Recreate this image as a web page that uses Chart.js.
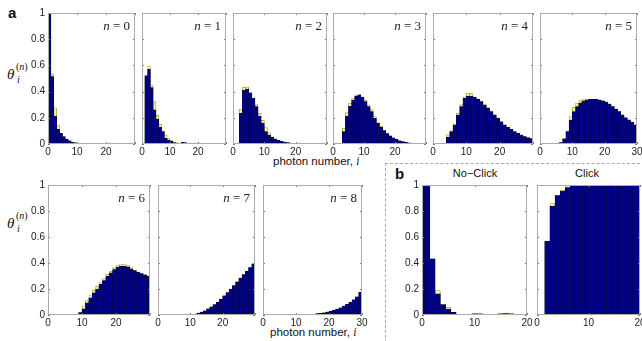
<!DOCTYPE html>
<html>
<head>
<meta charset="utf-8">
<script src="https://cdn.jsdelivr.net/npm/chart.js@4.4.0/dist/chart.umd.min.js"></script>
<style>
  body { margin: 0; background: #fff; }
  #fig { position: relative; width: 642px; height: 341px; overflow: hidden; font-family: "Liberation Sans", Arial, sans-serif; }
  #fig canvas { position: absolute; left: 0; top: 0; }
  .lbl { position: absolute; white-space: nowrap; color: #111; line-height: 1; }
  .serif { font-family: "Liberation Serif", "DejaVu Serif", serif; }
  .panel-letter { font-weight: bold; font-size: 15px; }
  .nlab { font-size: 13px; text-align: right; color: #222; }
  .xlab { font-size: 11.5px; }
  .ttl { font-size: 11px; transform: translateX(-50%); }
  .theta { position: absolute; width: 26px; height: 24px; color: #111; }
  .theta .t { position: absolute; left: 0; top: 5px; font-size: 15px; font-style: italic; }
  .theta .sup { position: absolute; left: 9px; top: 0; font-size: 10px; }
  .theta .sub { position: absolute; left: 10px; top: 13px; font-size: 10px; font-style: italic; }
  .dash-h { position: absolute; left: 385px; top: 163px; width: 260px; height: 0; border-top: 1px dashed #aaa; }
  .dash-v { position: absolute; left: 385px; top: 163px; width: 0; height: 180px; border-left: 1px dashed #aaa; }
</style>
</head>
<body>
<div id="fig">
  <div class="dash-h"></div>
  <div class="dash-v"></div>

  <div class="lbl panel-letter" style="left:8px;top:5px">a</div>
  <div class="lbl panel-letter" style="left:395px;top:166px">b</div>

  <div class="theta serif" style="left:7px;top:61px"><span class="t">θ</span><span class="sup">(<i>n</i>)</span><span class="sub">i</span></div>
  <div class="theta serif" style="left:7px;top:210px"><span class="t">θ</span><span class="sup">(<i>n</i>)</span><span class="sub">i</span></div>

  <div class="lbl xlab" style="left:273px;top:156px">photon number, <i class="serif">i</i></div>
  <div class="lbl xlab" style="left:270px;top:327px">photon number, <i class="serif">i</i></div>

  <div class="lbl ttl" style="left:475px;top:168px">No−Click</div>
  <div class="lbl ttl" style="left:587px;top:168px">Click</div>
</div>

<script>
// photon number bins
var photonTop = [0, 1, 2, 3, 4, 5, 6, 7, 8, 9, 10, 11, 12, 13, 14, 15, 16, 17, 18, 19, 20, 21, 22, 23, 24, 25, 26, 27, 28, 29];
var photonClick = [0, 1, 2, 3, 4, 5, 6, 7, 8, 9, 10, 11, 12, 13, 14, 15, 16, 17, 18, 19, 20];
var xTicksTop = [0, 10, 20, 30];
var xTicksClick = [0, 10, 20];
var yTicks = [0, 0.2, 0.4, 0.6, 0.8, 1];

// (a) estimated (navy) and theory (yellow) for n = 0..8
var n0Est = [1.0, 0.515, 0.214, 0.112, 0.081, 0.056, 0.036, 0.023, 0.012, 0.008, 0.005, 0.003, 0.002, 0.001, 0.001, 0, 0, 0, 0, 0, 0.001, 0.001, 0, 0, 0, 0, 0, 0, 0, 0];
var n0Theory = [1.0, 0.535, 0.277, 0.145, 0.075, 0.045, 0.03, 0.028, 0.015, 0.01, 0.006, 0.003, 0.002, 0.001, 0.001, 0, 0, 0, 0, 0, 0, 0, 0, 0, 0, 0, 0, 0, 0, 0];

var n1Est = [0, 0.52, 0.57, 0.43, 0.26, 0.188, 0.127, 0.094, 0.043, 0.03, 0.02, 0.01, 0.005, 0.005, 0.012, 0.01, 0.003, 0.001, 0, 0, 0, 0, 0, 0, 0, 0, 0, 0, 0, 0];
var n1Theory = [0, 0.525, 0.595, 0.45, 0.323, 0.22, 0.15, 0.1, 0.068, 0.045, 0.03, 0.015, 0.01, 0.006, 0.004, 0.003, 0.002, 0.001, 0, 0, 0, 0, 0, 0, 0, 0, 0, 0, 0, 0];

var n2Est = [0, 0, 0.234, 0.41, 0.42, 0.39, 0.35, 0.285, 0.214, 0.16, 0.094, 0.068, 0.05, 0.037, 0.028, 0.02, 0.014, 0.01, 0.007, 0.005, 0.003, 0.002, 0.002, 0.001, 0.001, 0, 0, 0, 0, 0];
var n2Theory = [0, 0, 0.265, 0.433, 0.435, 0.39, 0.345, 0.3, 0.234, 0.18, 0.125, 0.085, 0.055, 0.04, 0.028, 0.02, 0.013, 0.009, 0.006, 0.004, 0.003, 0.002, 0.001, 0.001, 0, 0, 0, 0, 0, 0];

var n3Est = [0, 0, 0, 0.094, 0.214, 0.29, 0.336, 0.366, 0.374, 0.356, 0.323, 0.285, 0.247, 0.196, 0.158, 0.127, 0.102, 0.08, 0.062, 0.047, 0.035, 0.025, 0.018, 0.012, 0.008, 0.006, 0.004, 0.003, 0.002, 0.002];
var n3Theory = [0, 0, 0, 0.12, 0.239, 0.31, 0.35, 0.374, 0.38, 0.36, 0.335, 0.298, 0.262, 0.21, 0.17, 0.135, 0.105, 0.082, 0.062, 0.047, 0.035, 0.026, 0.019, 0.013, 0.009, 0.006, 0.004, 0.003, 0.002, 0.002];

var n4Est = [0, 0, 0, 0, 0.051, 0.094, 0.145, 0.221, 0.285, 0.349, 0.366, 0.366, 0.356, 0.341, 0.323, 0.298, 0.272, 0.247, 0.221, 0.196, 0.17, 0.145, 0.127, 0.112, 0.094, 0.081, 0.069, 0.056, 0.048, 0.041];
var n4Theory = [0, 0, 0, 0, 0.07, 0.1, 0.15, 0.235, 0.3, 0.36, 0.387, 0.387, 0.36, 0.345, 0.33, 0.305, 0.278, 0.25, 0.225, 0.2, 0.172, 0.148, 0.128, 0.112, 0.095, 0.082, 0.07, 0.058, 0.05, 0.046];

var n5Est = [0, 0, 0, 0, 0.003, 0.005, 0.01, 0.04, 0.094, 0.183, 0.247, 0.285, 0.315, 0.33, 0.336, 0.341, 0.341, 0.341, 0.336, 0.33, 0.32, 0.305, 0.285, 0.265, 0.247, 0.221, 0.2, 0.183, 0.165, 0.145];
var n5Theory = [0, 0, 0, 0, 0.003, 0.005, 0.012, 0.045, 0.1, 0.21, 0.28, 0.31, 0.336, 0.34, 0.342, 0.342, 0.341, 0.341, 0.336, 0.33, 0.322, 0.307, 0.287, 0.268, 0.249, 0.224, 0.203, 0.186, 0.168, 0.15];

var n6Est = [0, 0, 0, 0, 0, 0.003, 0, 0, 0.005, 0.018, 0.048, 0.094, 0.133, 0.171, 0.2, 0.235, 0.265, 0.298, 0.324, 0.35, 0.367, 0.375, 0.375, 0.37, 0.355, 0.342, 0.329, 0.319, 0.309, 0.298];
var n6Theory = [0, 0, 0, 0, 0, 0.003, 0, 0.001, 0.006, 0.022, 0.07, 0.11, 0.15, 0.19, 0.22, 0.25, 0.28, 0.312, 0.337, 0.362, 0.383, 0.388, 0.388, 0.38, 0.365, 0.345, 0.33, 0.32, 0.31, 0.3];

var n7Est = [0, 0, 0, 0, 0, 0, 0, 0, 0, 0.002, 0.004, 0.008, 0.014, 0.022, 0.033, 0.047, 0.062, 0.08, 0.1, 0.122, 0.147, 0.173, 0.2, 0.227, 0.255, 0.283, 0.31, 0.337, 0.365, 0.39];
var n7Theory = [0, 0, 0, 0, 0, 0, 0, 0, 0, 0.002, 0.004, 0.008, 0.014, 0.022, 0.033, 0.047, 0.062, 0.08, 0.1, 0.122, 0.15, 0.176, 0.2, 0.227, 0.258, 0.286, 0.31, 0.337, 0.368, 0.395];

var n8Est = [0, 0, 0, 0, 0, 0, 0, 0, 0, 0, 0, 0, 0, 0, 0.003, 0.006, 0.01, 0.013, 0.017, 0.022, 0.028, 0.036, 0.045, 0.056, 0.068, 0.082, 0.098, 0.116, 0.14, 0.175];
var n8Theory = [0, 0, 0, 0, 0, 0, 0, 0, 0, 0, 0, 0, 0, 0, 0.003, 0.006, 0.01, 0.013, 0.018, 0.024, 0.03, 0.038, 0.047, 0.056, 0.068, 0.082, 0.1, 0.118, 0.14, 0.175];

// (b) click / no-click detector responses
var noClickEst = [1.0, 1.0, 0.433, 0.162, 0.08, 0.046, 0.02, 0.004, 0.002, 0.003, 0.008, 0.008, 0.003, 0.002, 0.002, 0.008, 0.01, 0.008, 0.003, 0.001, 0];
var noClickTheory = [1.0, 1.0, 0.433, 0.188, 0.08, 0.06, 0.02, 0.005, 0.002, 0.004, 0.012, 0.012, 0.004, 0.002, 0.003, 0.012, 0.015, 0.012, 0.004, 0.001, 0];
var clickEst = [0, 0, 0.567, 0.838, 0.918, 0.954, 0.98, 0.996, 0.998, 0.997, 0.992, 0.992, 0.997, 0.998, 0.998, 0.992, 0.99, 0.992, 0.997, 0.999, 1.0];
var clickTheory = [0, 0, 0.567, 0.858, 0.92, 0.96, 0.985, 0.996, 0.998, 0.998, 0.998, 0.998, 0.998, 0.998, 0.998, 0.998, 0.998, 0.998, 0.998, 0.999, 1.0];

var W = 642, H = 341;
var Y_W = 30, X_H = 14;
var NAVY = "#000085", NAVY_EDGE = "#00003a";
var YELLOW = "#fafa8a", YELLOW_EDGE = "#a4a446";
var FONT = "'Liberation Sans', Arial, sans-serif";

// panel boxes: left, top, right, bottom of the plot area
var panels = [
    { est: n0Est, theory: n0Theory, photons: photonTop, shift: 0.5, xTicks: xTicksTop, xMax: 30, showMax: false, yLabels: true,  box: [48, 13, 135, 144], name: "0" },
    { est: n1Est, theory: n1Theory, photons: photonTop, shift: 0.5, xTicks: xTicksTop, xMax: 30, showMax: false, yLabels: false, box: [142, 13, 226, 144], name: "1" },
    { est: n2Est, theory: n2Theory, photons: photonTop, shift: 0.5, xTicks: xTicksTop, xMax: 30, showMax: false, yLabels: false, box: [233, 13, 327, 144], name: "2" },
    { est: n3Est, theory: n3Theory, photons: photonTop, shift: 0.5, xTicks: xTicksTop, xMax: 30, showMax: false, yLabels: false, box: [333, 13, 426, 144], name: "3" },
    { est: n4Est, theory: n4Theory, photons: photonTop, shift: 0.5, xTicks: xTicksTop, xMax: 30, showMax: false, yLabels: false, box: [433, 13, 533, 144], name: "4" },
    { est: n5Est, theory: n5Theory, photons: photonTop, shift: 0.5, xTicks: xTicksTop, xMax: 30, showMax: true,  yLabels: false, box: [540, 13, 637, 144], name: "5" },
    { est: n6Est, theory: n6Theory, photons: photonTop, shift: 0.5, xTicks: xTicksTop, xMax: 30, showMax: false, yLabels: true,  box: [48, 185, 150, 315], name: "6" },
    { est: n7Est, theory: n7Theory, photons: photonTop, shift: 0.5, xTicks: xTicksTop, xMax: 30, showMax: false, yLabels: false, box: [158, 185, 255, 315], name: "7" },
    { est: n8Est, theory: n8Theory, photons: photonTop, shift: 0.5, xTicks: xTicksTop, xMax: 30, showMax: true,  yLabels: false, box: [263, 185, 362, 315], name: "8" },
    { est: noClickEst, theory: noClickTheory, photons: photonClick, shift: 0, xTicks: xTicksClick, xMax: 20, showMax: true, yLabels: true,  box: [422, 185, 527, 315] },
    { est: clickEst, theory: clickTheory, photons: photonClick, shift: 0, xTicks: xTicksClick, xMax: 20, showMax: true, yLabels: false, box: [537, 185, 640, 315] }
];

// gray box + small inward ticks, matlab style
var framePlugin = {
    id: "frame",
    afterDatasetsDraw: function(chart) {
        var ctx = chart.ctx, a = chart.chartArea;
        var sx = chart.scales.x, sy = chart.scales.y;
        ctx.save();
        ctx.lineWidth = 1;
        ctx.strokeStyle = "#7a7a7a";
        ctx.beginPath();
        sx.ticks.forEach(function(t) {
            var px = Math.round(sx.getPixelForValue(t.value)) + 0.5;
            ctx.moveTo(px, a.top); ctx.lineTo(px, a.top + 2);
            ctx.moveTo(px, a.bottom); ctx.lineTo(px, a.bottom - 2);
        });
        sy.ticks.forEach(function(t) {
            var py = Math.round(sy.getPixelForValue(t.value)) + 0.5;
            ctx.moveTo(a.left, py); ctx.lineTo(a.left + 2, py);
            ctx.moveTo(a.right, py); ctx.lineTo(a.right - 2, py);
        });
        ctx.stroke();
        ctx.strokeStyle = "#ababab";
        ctx.strokeRect(a.left + 0.5, a.top + 0.5, a.right - a.left - 1, a.bottom - a.top - 1);
        ctx.restore();
    }
};

function histData(photons, values, shift) {
    return photons.map(function(p, k) { return { x: p + shift, y: values[k] }; });
}

var fig = document.getElementById("fig");

panels.forEach(function(p) {
    var l = p.box[0], t = p.box[1], r = p.box[2], b = p.box[3];
    var canvas = document.createElement("canvas");
    canvas.width = W;
    canvas.height = H;
    fig.appendChild(canvas);

    new Chart(canvas, {
        type: "bar",
        data: {
            datasets: [
                { data: histData(p.photons, p.est, p.shift), backgroundColor: NAVY, borderColor: NAVY_EDGE, borderWidth: 0.5, order: 0, clip: 0 },
                { data: histData(p.photons, p.theory, p.shift), backgroundColor: YELLOW, borderColor: YELLOW_EDGE, borderWidth: 0.8, order: 1, clip: 0 }
            ]
        },
        options: {
            responsive: false,
            animation: false,
            events: [],
            devicePixelRatio: 1,
            layout: { padding: { left: l - Y_W, top: t, right: W - r, bottom: H - b - X_H } },
            datasets: { bar: { grouped: false, barPercentage: 1, categoryPercentage: 1, borderSkipped: "start" } },
            plugins: { legend: { display: false }, tooltip: { enabled: false } },
            scales: {
                x: {
                    type: "linear", min: 0, max: p.xMax, offset: false,
                    grid: { display: false, drawTicks: false },
                    border: { display: false },
                    afterBuildTicks: function(s) { s.ticks = p.xTicks.map(function(v) { return { value: v }; }); },
                    ticks: {
                        autoSkip: false, maxRotation: 0, padding: 2, color: "#222",
                        font: { family: FONT, size: 10 },
                        callback: function(v) { return (v === p.xMax && !p.showMax) ? "" : String(v); }
                    },
                    afterFit: function(s) { s.height = X_H; s.paddingLeft = 0; s.paddingRight = 0; }
                },
                y: {
                    min: 0, max: 1,
                    grid: { display: false, drawTicks: false },
                    border: { display: false },
                    afterBuildTicks: function(s) { s.ticks = yTicks.map(function(v) { return { value: v }; }); },
                    ticks: {
                        display: p.yLabels, padding: 3, color: "#222",
                        font: { family: FONT, size: 10 },
                        callback: function(v) { return String(Math.round(v * 10) / 10); }
                    },
                    afterFit: function(s) { s.width = Y_W; s.paddingTop = 0; s.paddingBottom = 0; }
                }
            }
        },
        plugins: [framePlugin]
    });

    if (p.name) {
        var lab = document.createElement("div");
        lab.className = "lbl serif nlab";
        lab.style.right = (W - r + 5) + "px";
        lab.style.top = (t + 6) + "px";
        lab.innerHTML = "<i>n</i> = " + p.name;
        fig.appendChild(lab);
    }
});
</script>
</body>
</html>
